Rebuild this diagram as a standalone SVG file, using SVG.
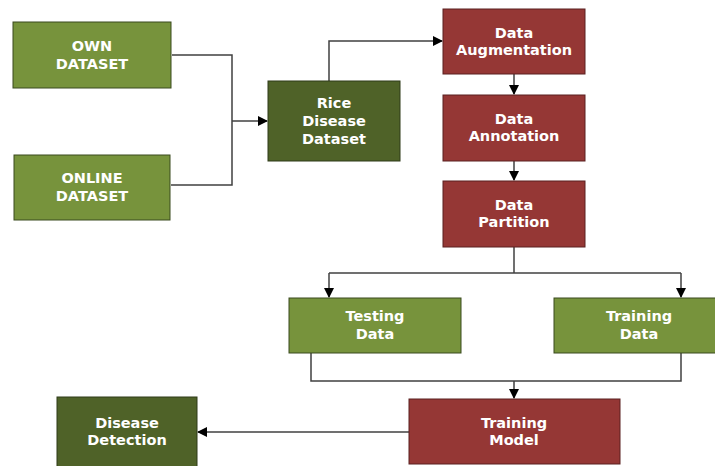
<svg xmlns="http://www.w3.org/2000/svg" width="715" height="466" viewBox="0 0 715 466">
<style>
.lg{fill:#77933c;stroke:#3a4a1e;stroke-width:1}
.dg{fill:#4f6228;stroke:#2f3b18;stroke-width:1}
.rd{fill:#953735;stroke:#5a2020;stroke-width:1}
text{font-family:"DejaVu Sans","Liberation Sans",sans-serif;font-weight:bold;font-size:14.5px;fill:#ffffff;text-anchor:middle}
.c{fill:none;stroke:#404040;stroke-width:1.5}
</style>
<defs>
<marker id="ah" markerWidth="10" markerHeight="10" refX="9" refY="5" orient="auto" markerUnits="userSpaceOnUse">
<path d="M0,0 L10,5 L0,10 Z" fill="#000"/>
</marker>
</defs>
<rect width="715" height="466" fill="#ffffff"/>
<g id="connectors">
<polyline class="c" points="172,55 232,55 232,185 171,185"/>
<line class="c" x1="232" y1="121" x2="267" y2="121" marker-end="url(#ah)"/>
<polyline class="c" points="329,81 329,41 442,41" marker-end="url(#ah)"/>
<line class="c" x1="514" y1="74" x2="514" y2="94" marker-end="url(#ah)"/>
<line class="c" x1="514" y1="161" x2="514" y2="180" marker-end="url(#ah)"/>
<polyline class="c" points="514,247 514,273"/>
<polyline class="c" points="329,273 681,273"/>
<line class="c" x1="329" y1="273" x2="329" y2="297" marker-end="url(#ah)"/>
<line class="c" x1="681" y1="273" x2="681" y2="297" marker-end="url(#ah)"/>
<polyline class="c" points="311,353 311,381 681,381 681,353"/>
<line class="c" x1="514" y1="381" x2="514" y2="398" marker-end="url(#ah)"/>
<line class="c" x1="409" y1="432" x2="198" y2="432" marker-end="url(#ah)"/>
</g>
<g id="own"><rect class="lg" x="13" y="22" width="158" height="66"/><text x="92" y="51">OWN</text><text x="92" y="69">DATASET</text></g>
<g id="online"><rect class="lg" x="14" y="155" width="156" height="65"/><text x="92" y="183">ONLINE</text><text x="92" y="201">DATASET</text></g>
<g id="rice"><rect class="dg" x="268" y="81" width="132" height="80"/><text x="334" y="108">Rice</text><text x="334" y="126">Disease</text><text x="334" y="144">Dataset</text></g>
<g id="aug"><rect class="rd" x="443" y="9" width="142" height="65"/><text x="514" y="38">Data</text><text x="514" y="55">Augmentation</text></g>
<g id="ann"><rect class="rd" x="443" y="95" width="142" height="66"/><text x="514" y="124">Data</text><text x="514" y="141">Annotation</text></g>
<g id="part"><rect class="rd" x="443" y="181" width="142" height="66"/><text x="514" y="210">Data</text><text x="514" y="227">Partition</text></g>
<g id="testing"><rect class="lg" x="289" y="298" width="172" height="55"/><text x="375" y="321">Testing</text><text x="375" y="339">Data</text></g>
<g id="training"><rect class="lg" x="554" y="298" width="162" height="55"/><text x="639" y="321">Training</text><text x="639" y="339">Data</text></g>
<g id="model"><rect class="rd" x="409" y="399" width="211" height="65"/><text x="514" y="428">Training</text><text x="514" y="445">Model</text></g>
<g id="detect"><rect class="dg" x="57" y="397" width="140" height="70"/><text x="127" y="428">Disease</text><text x="127" y="445">Detection</text></g>
</svg>
